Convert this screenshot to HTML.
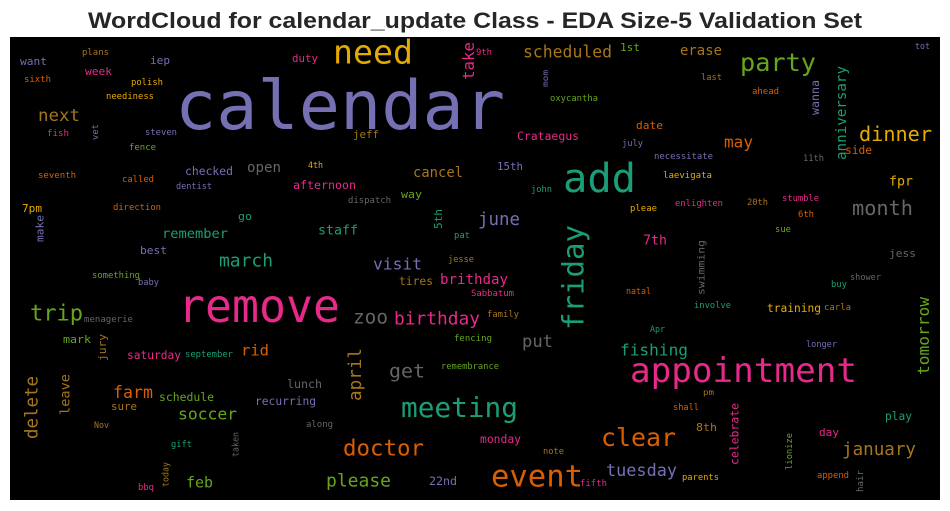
<!DOCTYPE html>
<html><head><meta charset="utf-8"><style>
html,body{margin:0;padding:0;background:#fff;width:950px;height:511px;overflow:hidden}
svg{display:block}
</style></head><body>
<svg id="chart" width="950" height="511" viewBox="0 0 950 511" xmlns="http://www.w3.org/2000/svg">
<text x="475" y="28" text-anchor="middle" font-family="Liberation Sans, sans-serif" font-weight="bold" font-size="22" textLength="774" lengthAdjust="spacingAndGlyphs" fill="#262626">WordCloud for calendar_update Class - EDA Size-5 Validation Set</text>
<rect x="10" y="37" width="930" height="463" fill="#000"/>
<g id="words"></g>
</svg>
<script>
const words = [
"calendar","remove","appointment","add","need","event","meeting","friday","party","clear",
"doctor","trip","dinner","month","get","zoo","please","march","birthday","june",
"april","next","delete","january","put","tuesday","farm","visit","soccer","scheduled",
"fishing","tomorrow","may","rid","feb","take","cancel","anniversary","remember","erase",
"brithday","open","leave","7th","staff","fpr","afternoon","checked","Crataegus","recurring",
"lunch","monday","schedule","saturday","celebrate","training","play","tires","22nd","15th",
"wanna","want","iep","week","duty","7pm","make","go","best","mark",
"jury","sure","1st","jeff","way","5th","date","side","8th","day",
"jess","plans","sixth","polish","neediness","fish","vet","steven","fence","seventh",
"called","4th","dentist","direction","something","baby","menagerie","september","along","Nov",
"gift","taken","today","bbq","9th","mom","oxycantha","july","dispatch","john",
"pat","jesse","Sabbatum","family","fencing","remembrance","note","fifth","natal","tot",
"last","ahead","necessitate","11th","laevigata","pleae","enlighten","20th","stumble","6th",
"sue","swimming","shower","buy","involve","carla","Apr","longer","pm","shall",
"lionize","parents","append","hair"];
const xLeft = [
175,178,630,563,333,491,401,557,740,601,
343,30,859,852,389,353,326,219,394,478,
347,38,23,842,522,606,113,373,178,523,
620,917,724,241,186,463,413,835,162,680,
440,247,58,643,318,889,293,185,517,255,
287,480,159,127,730,767,885,399,429,497,
811,20,150,85,292,22,36,238,140,63,
96,111,620,353,401,433,636,845,696,819,
889,82,24,131,106,47,92,145,129,38,
122,308,176,113,92,138,84,185,306,94,
171,232,162,138,476,542,550,622,348,531,
454,448,471,487,454,441,543,580,626,915,
701,752,654,803,663,630,675,747,782,798,
775,697,850,831,694,824,650,806,703,673,
785,682,817,857];
const xRight = [
505,340,857,636,413,583,518,590,816,676,
424,83,932,913,425,388,391,273,480,520,
363,80,40,916,553,677,153,422,237,612,
688,930,753,269,213,474,463,847,228,722,
508,281,71,667,358,913,356,233,579,316,
322,521,214,181,739,821,912,433,457,523,
819,47,170,112,318,42,43,252,167,91,
108,137,640,379,422,443,663,872,717,839,
916,109,51,163,154,69,98,177,156,76,
154,323,212,161,140,159,133,233,333,109,
192,239,169,154,492,548,598,643,391,552,
470,474,514,519,492,499,564,607,651,930,
722,779,713,824,712,657,723,768,819,814,
791,705,881,847,731,851,665,837,714,699,
793,719,849,863];
const yTop = [
105,306,370,178,52,476,407,225,62,437,
448,313,134,208,371,317,480,260,318,219,
348,115,376,449,341,470,392,264,414,52,
350,297,142,350,482,42,172,66,233,50,
279,167,374,240,230,181,185,171,136,401,
384,439,397,355,403,308,416,281,481,166,
80,61,60,71,58,208,215,216,250,339,
334,406,47,134,194,209,125,150,427,432,
253,52,79,82,96,133,124,132,147,175,
179,165,186,207,275,282,319,354,424,425,
444,432,462,487,52,70,98,143,200,189,
235,259,293,314,338,366,451,483,291,46,
77,91,156,158,175,208,203,202,198,214,
229,240,277,284,305,307,329,344,392,407,
433,477,475,470];
const yBottom = [
105,306,370,178,52,476,407,330,62,437,
448,313,134,208,371,317,480,260,318,219,
401,115,439,449,341,470,392,264,414,52,
350,375,142,350,482,80,172,160,233,50,
279,167,415,240,230,181,185,171,136,401,
384,439,397,355,465,308,416,281,481,166,
115,61,60,71,58,208,242,216,250,339,
361,406,47,134,194,229,125,150,427,432,
253,52,79,82,96,133,140,132,147,175,
179,165,186,207,275,282,319,354,424,425,
444,457,487,487,52,87,98,143,200,189,
235,259,293,314,338,366,451,483,291,46,
77,91,156,158,175,208,203,202,198,214,
229,295,277,284,305,307,329,344,392,407,
470,477,475,492];
const sizes = [
68,46,34,40,33,30,28,29,25,25,
22,22,20,20,19,19,18,18,18,17.5,
17.5,17,17.5,17.5,17,17,16.5,16,16.3,16.4,
16,16.3,16,15,15,15.8,13.8,14,13.7,14,
14,14,13.6,13.3,13,13,11.5,11.5,11.4,11.3,
11.6,11.4,11.4,11.2,11.4,11.2,11.2,11.3,11.6,11,
11.6,11,11,11,11,11,11,11,11,11,
11,11,11,11,11,11,11,11.2,11,11,
11,9,9,9,9,9,9,9,9,9,
9,9,9,9,9,9,9,9,9,9,
9,9,9,9,9,8,9,9,9,9,
9,9,9,9,9,9,9,9,9,9,
9,9,9,9,9,9,9,9,9,9,
9,9.5,9,9,9,9,9,9,8,9,
9,9,9,9];
const colorKeys = [
"pu","pk","pk","te","ye","or","te","te","gr","or",
"or","gr","ye","gy","gy","gy","gr","te","pk","pu",
"br","br","br","br","gy","pu","or","pu","gr","br",
"te","gr","or","or","gr","pk","br","te","te","br",
"pk","gy","br","pk","te","ye","pk","pu","pk","pu",
"gy","pk","gr","pk","pk","ye","te","br","pu","pu",
"pu","pu","pu","pk","pk","ye","pu","te","pu","gr",
"br","br","gr","br","gr","te","or","or","br","pk",
"gy","br","or","ye","ye","pk","pu","pu","gr","or",
"or","ye","pu","or","gr","pu","gy","te","gy","br",
"te","gy","br","pk","pk","pu","gr","pu","gy","te",
"te","br","pk","br","gr","gr","br","pk","or","pu",
"br","or","pu","gy","ye","ye","pk","br","pk","or",
"gr","gy","gy","te","te","br","te","pu","br","or",
"gr","ye","or","gy"];
const verticalWords = ["friday","april","delete","tomorrow","take","anniversary","leave","celebrate","wanna","make","jury","5th","vet","taken","today","mom","swimming","lionize","hair"];
const palette = {te:"#1b9e77",or:"#d95f02",pu:"#7570b3",pk:"#e7298a",gr:"#66a61e",ye:"#e6ab02",br:"#a6761d",gy:"#666666"};

const NS = "http://www.w3.org/2000/svg";
const g = document.getElementById("words");
for (let i = 0; i < words.length; i++) {
  const fs = sizes[i];
  const cx = (xLeft[i] + xRight[i]) / 2;
  const cy = (yTop[i] + yBottom[i]) / 2;
  const isV = verticalWords.indexOf(words[i]) >= 0;
  const t = document.createElementNS(NS, "text");
  
  
  t.textContent = words[i];
  t.setAttribute("font-family", "DejaVu Sans Mono, Liberation Mono, monospace");
  t.setAttribute("font-size", fs);
  t.setAttribute("fill", palette[colorKeys[i]]);
  t.setAttribute("text-anchor", "middle");
  let len;
  if (isV) {
    len = yBottom[i] - yTop[i];
    t.setAttribute("transform", "translate(" + cx + "," + cy + ") rotate(-90)");
    t.setAttribute("x", 0);
    t.setAttribute("y", 0.35 * fs);
  } else {
    len = xRight[i] - xLeft[i];
    t.setAttribute("x", cx);
    t.setAttribute("y", cy + 0.35 * fs);
  }
  if (len > 4) {
    t.setAttribute("textLength", len);
    t.setAttribute("lengthAdjust", "spacingAndGlyphs");
  }
  g.appendChild(t);
}
</script>
</body></html>
